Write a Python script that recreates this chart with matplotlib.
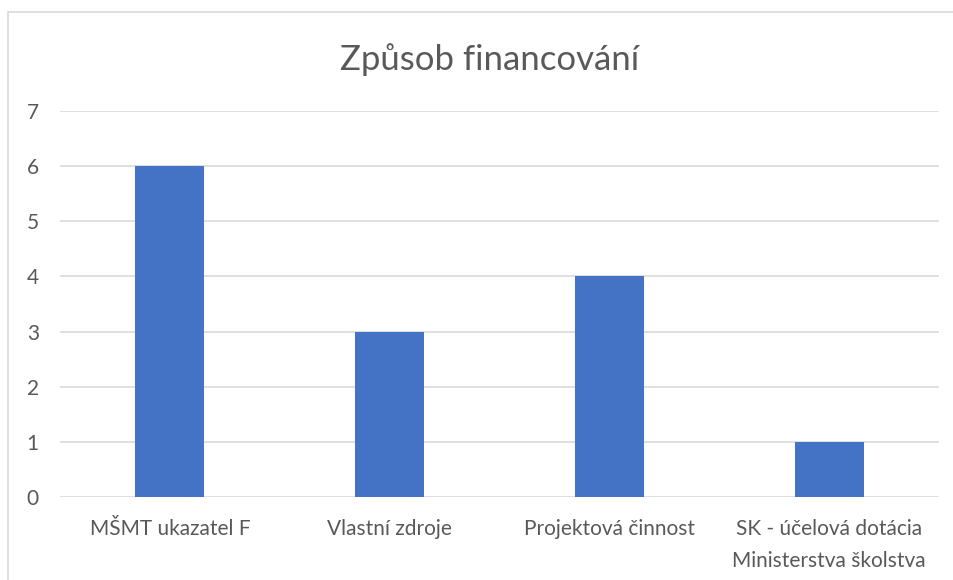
import matplotlib
matplotlib.use("Agg")
import matplotlib.pyplot as plt
from matplotlib.patches import Rectangle

categories = ["MŠMT ukazatel F", "Vlastní zdroje", "Projektová činnost",
              "SK - účelová dotácia\nMinisterstva školstva"]
values = [6, 3, 4, 1]
yticks = [0, 1, 2, 3, 4, 5, 6, 7]

plt.rcParams['font.family'] = ['Lato', 'DejaVu Sans']

W, H = 954, 580
fig = plt.figure(figsize=(W / 100, H / 100), dpi=100)
# chart border (cut off on right and bottom like the source)
fig.patches.append(Rectangle((8 / W, -0.1), 1.2, 1 - 12 / H + 0.1,
                             transform=fig.transFigure, fill=False,
                             edgecolor='#d9d9d9', linewidth=1.2))

ax = fig.add_axes([60 / W, 1 - 497 / H, (939 - 60) / W, (497 - 111) / H])
x = list(range(len(categories)))
ax.bar(x, values, width=0.315, color='#4472c4', zorder=3)
ax.set_xlim(-0.5, len(categories) - 0.5)
ax.set_ylim(0, 7)
ax.set_yticks(yticks)
ax.set_xticks(x)
ax.set_xticklabels(categories, linespacing=1.75)
ax.grid(axis='y', color='#d9d9d9', linewidth=1.2, zorder=0)
for s in ax.spines.values():
    s.set_visible(False)
ax.tick_params(length=0, labelsize=15, colors='#595959')
ax.tick_params(axis='x', pad=16)
ax.tick_params(axis='y', pad=24)
for lbl in ax.get_yticklabels():
    lbl.set_horizontalalignment('left')
fig.text(490 / W, 1 - 60 / H, "Způsob financování", ha='center', va='center',
         fontsize=25, color='#595959')

fig.savefig("out.png", dpi=100)
